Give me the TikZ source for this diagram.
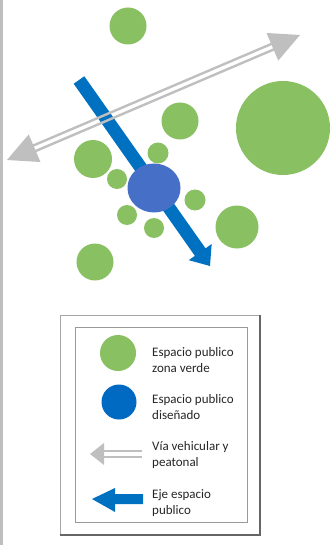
\documentclass[tikz,border=0pt]{standalone}
\usepackage{fontspec}
\setmainfont{Carlito}
\usetikzlibrary{calc,shapes.geometric}
\definecolor{vgreen}{RGB}{136,192,98}
\definecolor{vgray}{RGB}{191,191,191}
\definecolor{vblue}{RGB}{0,112,192}
\definecolor{cblue}{RGB}{70,112,200}
\definecolor{lblue}{RGB}{0,106,194}
\tikzset{
  green circle/.style={circle, fill=vgreen, inner sep=0pt, minimum size=#1},
  legtext/.style={anchor=west, align=left, inner sep=0pt, font=\fontsize{13}{15.5}\selectfont, text=black!85},
  grayline/.style={draw=vgray, line width=2.4pt},
}
\begin{document}
\begin{tikzpicture}[x=1pt,y=-1pt]
\useasboundingbox (0,0) rectangle (330,545);
\fill[white] (0,0) rectangle (330,545);
\fill[vgray] (0,0) rectangle (2.5,545);
% green circles
\node[green circle=37pt] (c1) at (128,26) {};
\node[green circle=94pt] (c2) at (283,128) {};
\node[green circle=37pt] (c3) at (180,121) {};
\node[green circle=38pt] (c4) at (93,159) {};
\node[green circle=21pt] (c5) at (158,153) {};
\node[green circle=20pt] (c6) at (117,179) {};
\node[green circle=21pt] (c7) at (195,200) {};
\node[green circle=20pt] (c8) at (127,215) {};
\node[green circle=20pt] (c9) at (154,228) {};
\node[green circle=43pt] (c10) at (237,227) {};
\node[green circle=37pt] (c11) at (95,262) {};
% blue axis arrow
\coordinate (bS) at (79,80);
\coordinate (bT) at (210,266);
\coordinate (bH) at ($(bT)!17pt!(bS)$);
\fill[vblue] ($(bS)!6.5pt!90:(bT)$) -- ($(bH)!6.5pt!90:(bT)$) -- ($(bH)!14pt!90:(bT)$) -- (bT)
  -- ($(bH)!14pt!-90:(bT)$) -- ($(bH)!6.5pt!-90:(bT)$) -- ($(bS)!6.5pt!-90:(bT)$) -- cycle;
% designed public space
\node[ellipse, fill=cblue, minimum width=53pt, minimum height=49pt, inner sep=0pt] (blue) at (154,188) {};
% gray double arrow
\coordinate (gA) at (7,160);
\coordinate (gB) at (300,35);
\coordinate (gAb) at ($(gA)!30pt!(gB)$);
\coordinate (gBb) at ($(gB)!30pt!(gA)$);
\draw[grayline] ($(gA)!28pt!(gB)!3pt!90:(gB)$) -- ($(gB)!28pt!(gA)!3pt!-90:(gA)$);
\draw[grayline] ($(gA)!28pt!(gB)!3pt!-90:(gB)$) -- ($(gB)!28pt!(gA)!3pt!90:(gA)$);
\fill[vgray] (gA) -- ($(gAb)!15pt!90:(gB)$) -- ($(gAb)!15pt!-90:(gB)$) -- cycle;
\fill[vgray] (gB) -- ($(gBb)!15pt!90:(gA)$) -- ($(gBb)!15pt!-90:(gA)$) -- cycle;
% legend
\draw[gray!70, line width=0.8pt] (60,315) rectangle (260,535);
\draw[black!60, line width=1.4pt] (260,315) -- (260,535) -- (60,535);
\draw[gray!80, line width=0.7pt] (75,327) rectangle (247,522);
\node[green circle=36pt] (lg) at (118,353) {};
\node[legtext] (tg) at (152,360) {Espacio publico\\zona verde};
\node[circle, fill=lblue, minimum size=35pt, inner sep=0pt] (lb) at (119,402) {};
\node[legtext] (tb) at (152,407) {Espacio publico\\diseñado};
\coordinate (lgT) at (90,454);
\coordinate (lgE) at (142,454);
\draw[grayline, line width=2.2pt] (100,451) -- (lgE |- 0,451);
\draw[grayline, line width=2.2pt] (100,457) -- (lgE |- 0,457);
\fill[vgray] (lgT) -- (104,443) -- (104,465) -- cycle;
\node[legtext] (tv) at (152,455) {Vía vehicular y\\peatonal};
\fill[vblue] (92,499) -- (115,488) -- (115,494) -- (143,494) -- (143,504) -- (115,504) -- (115,512) -- cycle;
\node[legtext] (te) at (152,503) {Eje espacio\\publico};
\end{tikzpicture}
\end{document}
